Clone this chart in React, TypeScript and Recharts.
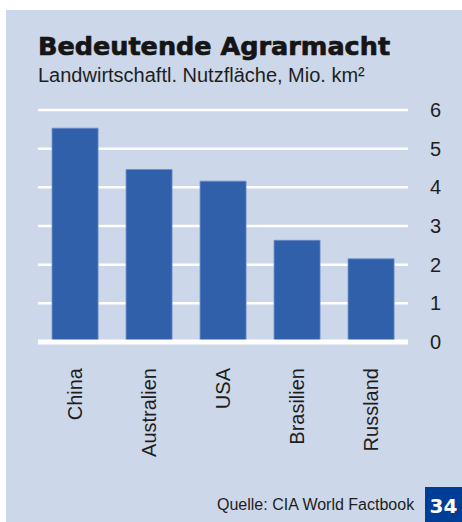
import React from 'react';
import { BarChart, Bar, XAxis, YAxis, CartesianGrid, ReferenceLine } from 'recharts';

// Landwirtschaftliche Nutzfläche in Mio. km²
const laender = ['China', 'Australien', 'USA', 'Brasilien', 'Russland'];
const flaeche = [5.53, 4.46, 4.16, 2.63, 2.15];
const yTicks = [0, 1, 2, 3, 4, 5, 6];

const data = laender.map((land, i) => ({ land, wert: flaeche[i] }));

const LandTick = (props: any) => {
  const { x, y, payload } = props;
  return (
    <text
      x={x + 7}
      y={y + 18}
      transform={`rotate(-90, ${x + 7}, ${y + 18})`}
      textAnchor="end"
      fontSize={20}
      fontFamily="'Liberation Sans', Arial, sans-serif"
      fill="#1e1e1e"
    >
      {payload.value}
    </text>
  );
};

export default function App() {
  return (
    <div style={{ position: 'absolute', left: 0, top: 0, width: 462, height: 522, background: '#fff' }}>
      <div style={{ position: 'absolute', left: 6, top: 10, width: 456, height: 512, background: '#CCD7E9' }} />
      <div
        style={{
          position: 'absolute', left: 38, top: 34, fontFamily: "'DejaVu Sans', sans-serif",
          fontWeight: 'bold', fontSize: 25.5, color: '#151515', lineHeight: 1, whiteSpace: 'nowrap',
          WebkitTextStroke: '0.7px #151515',
        }}
      >
        Bedeutende Agrarmacht
      </div>
      <div
        style={{
          position: 'absolute', left: 38, top: 65, fontFamily: "'Liberation Sans', Arial, sans-serif",
          fontSize: 20, color: '#1e1e1e', lineHeight: 1, whiteSpace: 'nowrap',
        }}
      >
        Landwirtschaftl. Nutzfläche, Mio. km²
      </div>
      <div style={{ position: 'absolute', left: 0, top: 0 }}>
        <BarChart width={462} height={522} data={data} margin={{ top: 110, right: 0, left: 38, bottom: 0 }} barCategoryGap="19%">
          <CartesianGrid vertical={false} stroke="#ffffff" strokeWidth={2.5} />
          <XAxis dataKey="land" height={180} axisLine={false} tickLine={false} tick={<LandTick />} interval={0} />
          <YAxis
            orientation="right"
            width={54}
            domain={[0, 6]}
            ticks={yTicks}
            axisLine={false}
            tickLine={false}
            tickSize={0}
            tickMargin={22}
            tick={{ fontSize: 20, fill: '#1e1e1e', fontFamily: "'Liberation Sans', Arial, sans-serif" }}
          />
          <Bar dataKey="wert" fill="#3160AB" stroke="#6b8cc6" strokeWidth={0.8} isAnimationActive={false} />
          <ReferenceLine y={0} stroke="#ffffff" strokeWidth={5} />
        </BarChart>
      </div>
      <div
        style={{
          position: 'absolute', left: 217, top: 497, fontFamily: "'Liberation Sans', Arial, sans-serif",
          fontSize: 16, color: '#1e1e1e', lineHeight: 1, whiteSpace: 'nowrap',
        }}
      >
        Quelle: CIA World Factbook
      </div>
      <div
        style={{
          position: 'absolute', left: 425, top: 487, width: 37, height: 35, background: '#003D97',
          color: '#fff', fontFamily: "'DejaVu Sans', sans-serif", fontWeight: 'bold', fontSize: 20,
          display: 'flex', alignItems: 'center', justifyContent: 'center', paddingTop: 3, boxSizing: 'border-box',
        }}
      >
        34
      </div>
    </div>
  );
}
